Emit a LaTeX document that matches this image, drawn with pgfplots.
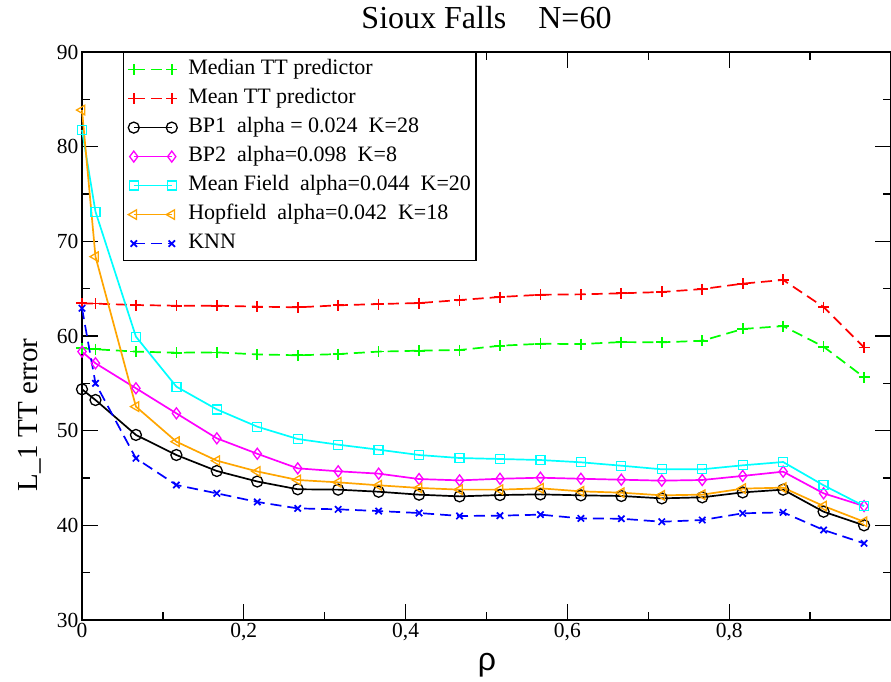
\documentclass[border=0pt]{standalone}
\usepackage{fontspec}
\setmainfont{Liberation Serif}
\newfontfamily\timesfont{Liberation Serif}
\newfontfamily\greeksans{Liberation Sans}
\usepackage{pgfplots}
\usepackage{pgfplotstable}
\pgfplotsset{compat=1.18}

\definecolor{cgreen}{RGB}{0,255,0}
\definecolor{cred}{RGB}{255,0,0}
\definecolor{cmag}{RGB}{255,0,255}
\definecolor{ccyan}{RGB}{0,255,255}
\definecolor{corange}{RGB}{255,165,0}
\definecolor{cblue}{RGB}{0,0,255}

% L_1 travel-time error versus rho, Sioux Falls, N=60
\pgfplotstableread{
rho      med    mean   bp1    bp2    mf     hop    knn
0.00000  58.70  63.45  54.37  58.35  81.76  83.87  62.93
0.01667  58.60  63.42  53.24  57.12  73.13  68.38  55.00
0.06667  58.35  63.27  49.55  54.48  59.93  52.54  47.08
0.11667  58.24  63.20  47.43  51.83  54.65  48.84  44.26
0.16667  58.27  63.20  45.74  49.19  52.25  46.83  43.38
0.21667  58.06  63.10  44.63  47.56  50.42  45.69  42.47
0.26667  57.96  63.03  43.81  46.02  49.12  44.79  41.79
0.31667  58.09  63.24  43.77  45.71  48.52  44.54  41.69
0.36667  58.35  63.38  43.55  45.46  47.99  44.23  41.51
0.41667  58.45  63.48  43.24  44.89  47.43  43.95  41.30
0.46667  58.52  63.80  43.06  44.75  47.11  43.77  40.99
0.51667  58.97  64.12  43.20  44.92  47.01  43.77  41.02
0.56667  59.18  64.36  43.27  45.03  46.90  43.91  41.13
0.61667  59.15  64.40  43.17  44.92  46.66  43.59  40.73
0.66667  59.36  64.51  43.10  44.82  46.30  43.45  40.70
0.71667  59.33  64.65  42.85  44.72  45.92  43.17  40.38
0.76667  59.50  64.96  42.96  44.79  45.92  43.24  40.56
0.81667  60.74  65.53  43.48  45.22  46.34  43.88  41.27
0.86667  61.05  65.92  43.77  45.67  46.69  43.98  41.37
0.91667  58.87  63.06  41.44  43.38  44.23  42.04  39.51
0.96667  55.64  58.80  40.00  42.04  42.04  40.38  38.10
}\datatable

\tikzset{
  dashedline/.style={line width=1.7pt, dash pattern=on 11pt off 6pt},
  solidline/.style={line width=1.7pt, solid},
}

\begin{document}
\begin{tikzpicture}
\begin{axis}[
  name=ax, at={(0,0)}, anchor=south west,
  scale only axis, width=809pt, height=568pt,
  xmin=0, xmax=1, ymin=30, ymax=90,
  xtick={0,0.2,0.4,0.6,0.8},
  minor xtick={0.1,0.3,0.5,0.7,0.9},
  ytick={30,40,...,90},
  minor ytick={35,45,...,85},
  major tick length=16pt, minor tick length=8pt,
  tick align=inside,
  axis line style={line width=1.6pt},
  every tick/.style={black, line width=1.3pt},
  /pgf/number format/assume math mode=true,
  /pgf/number format/use comma,
  tick label style={font=\timesfont\fontsize{21.5}{24}\selectfont},
  title={Sioux Falls\hspace{0.75em} N=60},
  title style={at={(axis description cs:0.5,1.03)}, anchor=base,
    font=\timesfont\fontsize{32}{36}\selectfont},
  xlabel={\greeksans ρ},
  xlabel style={at={(axis description cs:0.5006,-0.079)}, anchor=center,
    font=\fontsize{32}{36}\selectfont},
  ylabel={L\_1 TT error},
  ylabel style={at={(axis description cs:-0.064,0.361)}, anchor=center,
    font=\timesfont\fontsize{29}{32}\selectfont},
  clip=false,
  % sample line with a mark at each end
  legend image code/.code={%
    \draw[#1, mark=none, line width=1.7pt] (0pt,0pt) -- (38pt,0pt);
    \draw[#1, draw=none] plot coordinates {(0pt,0pt) (38pt,0pt)};},
  legend cell align=left,
  legend style={at={(rel axis cs:0.0503,1)}, anchor=north west,
    draw=black, line width=1.2pt, fill=white,
    font=\timesfont\fontsize{22}{24}\selectfont,
    inner xsep=5pt, inner ysep=7pt,
    nodes={inner sep=0pt, text height=15pt, text depth=5pt},
    row sep=9pt, column sep=11pt},
]
\addplot[cgreen, dashedline, mark=+, mark size=5.5pt, mark options={solid}]
  table[x=rho, y=med] {\datatable};
\addlegendentry{Median TT predictor}
\addplot[cred, dashedline, mark=+, mark size=5.5pt, mark options={solid}]
  table[x=rho, y=mean] {\datatable};
\addlegendentry{Mean TT predictor}
\addplot[black, solidline, mark=o, mark size=5.5pt, mark options={line width=1.3pt}]
  table[x=rho, y=bp1] {\datatable};
\addlegendentry{BP1\ \ alpha = 0.024\ \ K=28}
\addplot[cmag, solidline, mark=diamond, mark size=5.5pt, mark options={line width=1.3pt}]
  table[x=rho, y=bp2] {\datatable};
\addlegendentry{BP2\ \ alpha=0.098\ \ K=8}
\addplot[ccyan, solidline, mark=square, mark size=4.5pt, mark options={line width=1.3pt}]
  table[x=rho, y=mf] {\datatable};
\addlegendentry{Mean Field\ \ alpha=0.044\ \ K=20}
\addplot[corange, solidline, mark=triangle, mark size=5.5pt, mark options={rotate=90, line width=1.3pt}]
  table[x=rho, y=hop] {\datatable};
\addlegendentry{Hopfield\ \ alpha=0.042\ \ K=18}
\addplot[cblue, dashedline, mark=x, mark size=4.5pt, mark options={solid}]
  table[x=rho, y=knn] {\datatable};
\addlegendentry{KNN}
\end{axis}
\pgfresetboundingbox
\path (-82pt,-61pt) rectangle (809pt,620pt);
\end{tikzpicture}
\end{document}
